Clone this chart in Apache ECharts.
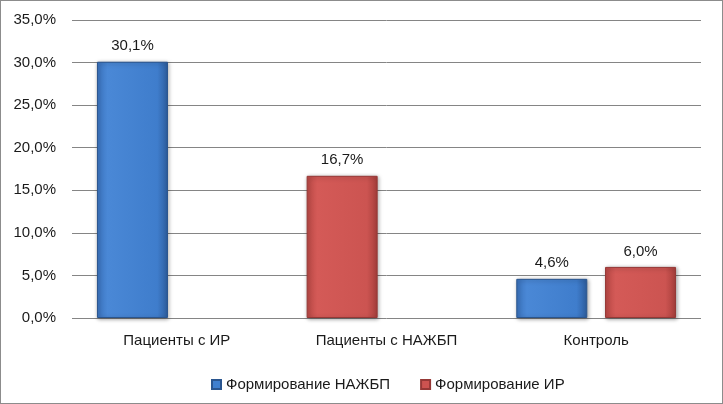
<!DOCTYPE html>
<html><head><meta charset="utf-8">
<script src="https://cdn.jsdelivr.net/npm/echarts@6/dist/echarts.min.js"></script>
<style>
html,body{margin:0;padding:0;background:#fff;}
#frame{position:absolute;left:0;top:0;width:721px;height:402px;border:1px solid #8c8c8c;}
#c{position:absolute;left:0;top:0;width:723px;height:404px;}
</style></head>
<body><div id="frame"></div><div id="c"></div>
<script>
const categories = ['Пациенты с ИР', 'Пациенты с НАЖБП', 'Контроль'];
const seriesNames = ['Формирование НАЖБП', 'Формирование ИР'];
const nazhbp = [30.1, null, 4.6];
const ir = [null, 16.7, 6.0];
const yTicks = [0, 5, 10, 15, 20, 25, 30, 35];

const FONT = 'Liberation Sans';
const blueFill = new echarts.graphic.LinearGradient(0,0,1,0,[
  {offset:0,color:'#3a72bd'},{offset:0.15,color:'#4a88d6'},{offset:0.85,color:'#3f7dcc'},{offset:1,color:'#2d5d9e'}]);
const redFill = new echarts.graphic.LinearGradient(0,0,1,0,[
  {offset:0,color:'#b94845'},{offset:0.15,color:'#d45a57'},{offset:0.85,color:'#cc5451'},{offset:1,color:'#a63e3b'}]);
const fmt = v => v.toFixed(1).replace('.', ',') + '%';
const labelCfg = {show:true, position:'top', distance:8, color:'#1a1a1a', fontFamily:FONT, fontSize:15,
  formatter: p => fmt(p.value)};
const common = {type:'bar', barWidth:71, barGap:'25%', label:labelCfg,
  itemStyle:{borderWidth:1, shadowBlur:4, shadowColor:'rgba(0,0,0,0.35)', shadowOffsetX:1, shadowOffsetY:1}};

const irLeft = ir.map((v,i) => nazhbp[i] == null ? v : null);
const irRight = ir.map((v,i) => nazhbp[i] == null ? null : v);

const chart = echarts.init(document.getElementById('c'));
chart.setOption({
  animation:false,
  backgroundColor:'transparent',
  grid:{left:72, right:22, top:20, bottom:86},
  legend:{left:206, top:372, itemWidth:9, itemHeight:9, itemGap:30, icon:'rect',
    textStyle:{fontFamily:FONT, fontSize:15, color:'#1a1a1a'},
    data:[{name:seriesNames[0], itemStyle:{color:'#3f7fcf'}},{name:seriesNames[1], itemStyle:{color:'#cd5350'}}]},
  xAxis:{type:'category', data:categories,
    axisLine:{show:false}, axisTick:{show:false},
    axisLabel:{color:'#1a1a1a', fontFamily:FONT, fontSize:15, margin:15}},
  yAxis:{type:'value', min:yTicks[0], max:yTicks[yTicks.length-1], interval:5,
    axisLine:{show:false}, axisTick:{show:false},
    splitLine:{lineStyle:{color:'#858585', width:1}},
    axisLabel:{color:'#1a1a1a', fontFamily:FONT, fontSize:15, margin:16,
      formatter: v => v.toFixed(1).replace('.', ',') + '%'}},
  series:[
    Object.assign({}, common, {name:seriesNames[0], stack:'left', data:nazhbp,
      itemStyle:Object.assign({}, common.itemStyle, {color:blueFill, borderColor:'#2a558f'})}),
    Object.assign({}, common, {name:seriesNames[1], stack:'left', data:irLeft,
      itemStyle:Object.assign({}, common.itemStyle, {color:redFill, borderColor:'#963836'})}),
    Object.assign({}, common, {name:seriesNames[1], stack:'right', data:irRight,
      itemStyle:Object.assign({}, common.itemStyle, {color:redFill, borderColor:'#963836'})})
  ]
});
</script></body></html>
